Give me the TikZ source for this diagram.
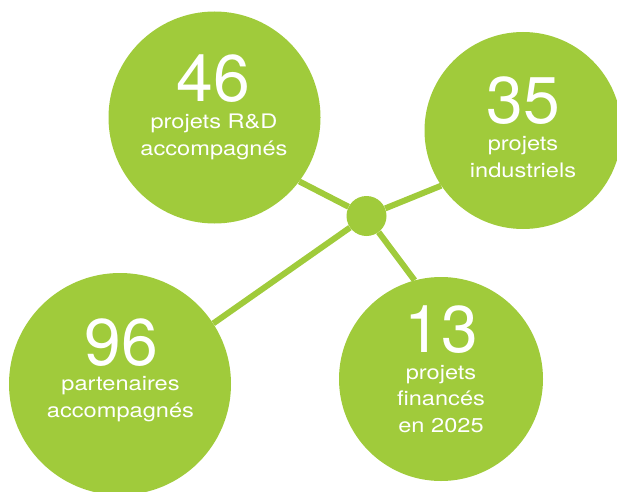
\documentclass[tikz,border=0pt]{standalone}
\usepackage{fontspec}
\setmainfont{TeX Gyre Heros}
\newfontfamily\bignum{TeX Gyre Heros}
\newfontfamily\smalltext{TeX Gyre Heros}[FakeStretch=1.18]
\definecolor{leafgreen}{RGB}{160,203,59}

\begin{document}
\begin{tikzpicture}[
  x = 1pt, y = 1pt,
  bubble/.style = {circle, fill=leafgreen, inner sep=0pt},
  number/.style = {anchor=base, text=white, inner sep=0pt, font=\bignum\fontsize{66}{66}\selectfont},
  caption/.style = {anchor=base, text=white, inner sep=0pt, align=center, font=\smalltext\fontsize{20}{26.5}\selectfont},
  link/.style = {leafgreen, line width=6pt}
]
  \useasboundingbox (0,0) rectangle (617,491);

  % hub and the four bubbles
  \node[bubble, minimum size=40pt] (hub) at (366.5,275) {};
  \node[bubble, minimum size=212pt] (rd) at (214.5,373.5) {};
  \node[bubble, minimum size=197pt] (indus) at (523,360.5) {};
  \node[bubble, minimum size=222pt] (partners) at (120,107) {};
  \node[bubble, minimum size=204pt] (funded) at (441,112) {};

  \draw[link] (hub) -- (rd.-37.4);
  \draw[link] (hub) -- (indus.214.2);
  \draw[link] (hub) -- (partners.33.1);
  \draw[link] (hub) -- (funded.105.8);

  % figures (caption base = last line)
  \node[number] (rdnum) at (213.5,389) {46};
  \node[caption] (rdtext) at (214,336) {projets R\&D\\accompagnés};

  \node[number] (indusnum) at (523,368) {35};
  \node[caption] (industext) at (523,314) {projets\\industriels};

  \node[number] (partnersnum) at (121,126) {96};
  \node[caption] (partnerstext) at (120.5,74) {partenaires\\accompagnés};

  \node[number] (fundednum) at (441,139) {13};
  \node[caption] (fundedtext) at (441,59) {projets\\financés\\en 2025};
\end{tikzpicture}
\end{document}
